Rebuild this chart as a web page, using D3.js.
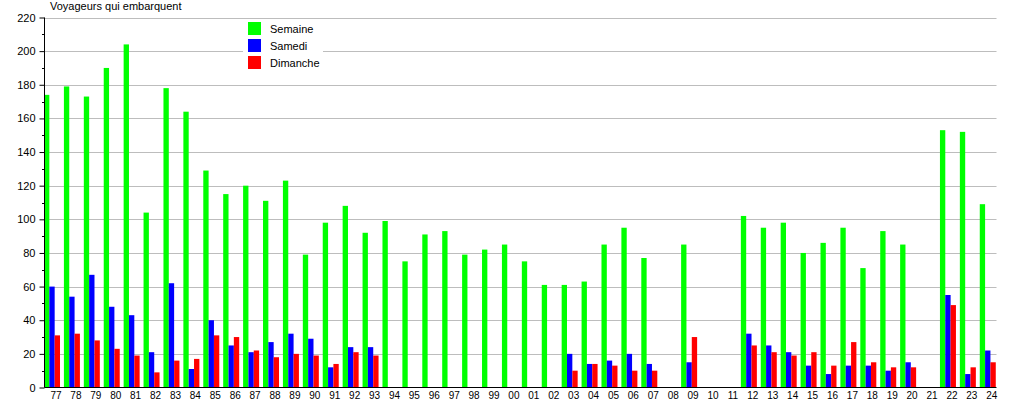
<!DOCTYPE html>
<html>
<head>
<meta charset="utf-8">
<script src="https://cdn.jsdelivr.net/npm/d3@7"></script>
<style>
  body { margin: 0; background: #fff; }
  svg { display: block; font-family: "Liberation Sans", Arial, sans-serif; }
</style>
</head>
<body>
<div id="chart"></div>
<script>
// Years on the x axis (two-digit labels)
const years = ["77","78","79","80","81","82","83","84","85","86","87","88","89","90","91","92","93","94","95","96","97","98","99",
  "00","01","02","03","04","05","06","07","08","09","10","11","12","13","14","15","16","17","18","19","20","21","22","23","24"];

// Values (0 = no bar)
const semaine = [174,179,173,190,204,104,178,164,129,115,120,111,123,79,98,108,92,99,75,91,93,79,82,
  85,75,61,61,63,85,95,77,0,85,0,0,102,95,98,80,86,95,71,93,85,0,153,152,109];
const samedi = [60,54,67,48,43,21,62,11,40,25,21,27,32,29,12,24,24,0,0,0,0,0,0,
  0,0,0,20,14,16,20,14,0,15,0,0,32,25,21,13,8,13,13,10,15,0,55,8,22];
const dimanche = [31,32,28,23,19,9,16,17,31,30,22,18,20,19,14,21,19,0,0,0,0,0,0,
  0,0,0,10,14,13,10,10,0,30,0,0,25,21,19,21,13,27,15,12,12,0,49,12,15];

const seriesNames = ["Semaine", "Samedi", "Dimanche"];
const seriesColors = ["#00ff00", "#0000ff", "#ff0000"];
const yTicks = d3.range(0, 221, 20);

const W = 1015, H = 400;
const plotLeft = 44.5, plotRight = 996.5, plotTop = 17.5, plotBottom = 387.5;

const svg = d3.select("#chart").append("svg")
  .attr("width", W)
  .attr("height", H);

const y = d3.scaleLinear().domain([0, 220]).range([plotBottom, plotTop]);
const x = d3.scaleBand().domain(years).range([44, 44 + 19.91 * years.length]);
const bw = 16 / 3;

// grid
svg.append("g")
  .selectAll("line")
  .data(yTicks.filter(d => d > 0))
  .join("line")
  .attr("x1", plotLeft).attr("x2", plotRight)
  .attr("y1", d => Math.round(y(d)) + 0.5).attr("y2", d => Math.round(y(d)) + 0.5)
  .attr("stroke", "#bdbdbd");

// legend background (hides the grid behind it)
svg.append("rect")
  .attr("x", 243).attr("y", 19).attr("width", 80).attr("height", 54)
  .attr("fill", "#fff");

// bars
const table = years.map((yr, i) => ({ yr, vals: [semaine[i], samedi[i], dimanche[i]] }));
const groups = svg.append("g")
  .selectAll("g")
  .data(table)
  .join("g")
  .attr("transform", d => `translate(${x(d.yr)},0)`);

groups.selectAll("rect")
  .data(d => d.vals.map((v, k) => ({ v, k })))
  .join("rect")
  .attr("x", d => d.k * bw)
  .attr("width", bw)
  .attr("y", d => y(d.v))
  .attr("height", d => plotBottom - y(d.v))
  .attr("fill", d => seriesColors[d.k]);

// y axis
const yAxis = d3.axisLeft(y)
  .tickValues(yTicks)
  .tickSize(5)
  .tickPadding(4)
  .tickFormat(d3.format("d"));
const gy = svg.append("g")
  .attr("transform", `translate(${plotLeft},0)`)
  .call(yAxis);
gy.select(".domain").attr("d", `M0,${plotTop}V${plotBottom}`).attr("stroke", "#000");
gy.selectAll(".tick line").attr("stroke", "#000");
gy.selectAll(".tick text")
  .attr("font-size", 11)
  .attr("fill", "#000")
  .attr("font-family", "Liberation Sans, Arial, sans-serif");

// minor ticks
svg.append("g")
  .selectAll("line")
  .data(d3.range(10, 220, 20))
  .join("line")
  .attr("x1", plotLeft - 2.5).attr("x2", plotLeft)
  .attr("y1", d => Math.round(y(d)) + 0.5).attr("y2", d => Math.round(y(d)) + 0.5)
  .attr("stroke", "#000");

// x axis line
svg.append("line")
  .attr("x1", plotLeft).attr("x2", plotRight)
  .attr("y1", plotBottom).attr("y2", plotBottom)
  .attr("stroke", "#000");

// x labels
svg.append("g")
  .selectAll("text")
  .data(years)
  .join("text")
  .attr("x", d => x(d) + 12)
  .attr("y", 398.5)
  .attr("text-anchor", "middle")
  .attr("font-size", 10)
  .text(d => d);

// title
svg.append("text")
  .attr("x", 50)
  .attr("y", 10)
  .attr("font-size", 11)
  .text("Voyageurs qui embarquent");

// legend
const leg = svg.append("g")
  .selectAll("g")
  .data(seriesNames)
  .join("g")
  .attr("transform", (d, i) => `translate(248,${22 + i * 17})`);
leg.append("rect")
  .attr("width", 13).attr("height", 13)
  .attr("fill", (d, i) => seriesColors[i]);
leg.append("text")
  .attr("x", 22).attr("y", 10.5)
  .attr("font-size", 11)
  .text(d => d);
</script>
</body>
</html>
